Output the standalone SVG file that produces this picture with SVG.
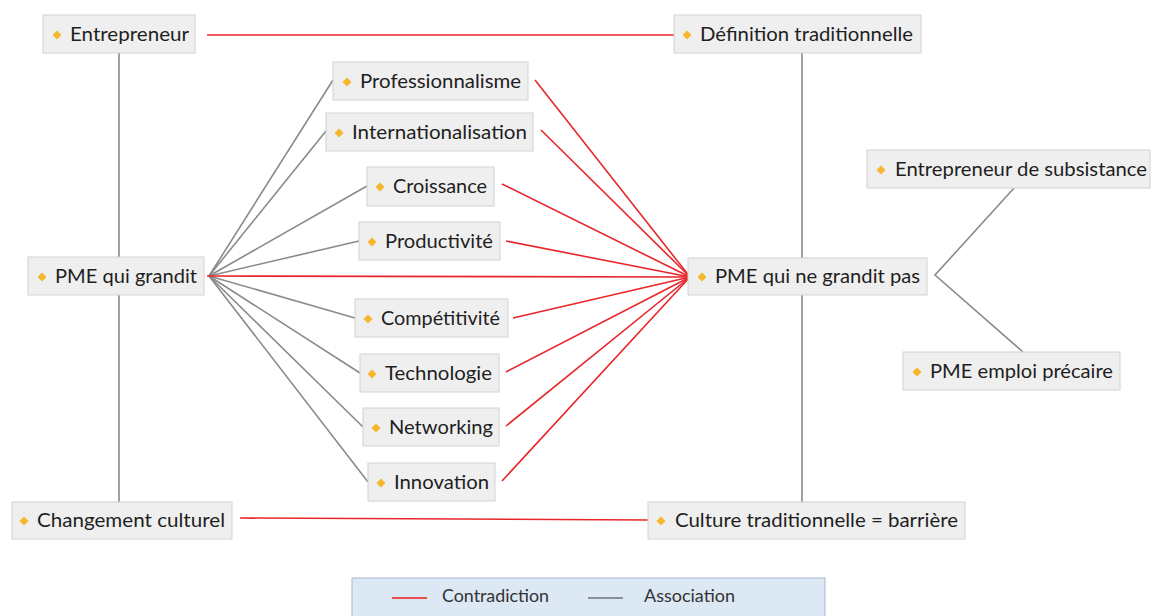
<svg xmlns="http://www.w3.org/2000/svg" width="1152" height="616" viewBox="0 0 1152 616">
<style>
.box{fill:#efefef;stroke:#d2d2d2;stroke-width:1}
.lbl{font-family:Lato,"Open Sans","Liberation Sans",sans-serif;font-size:19px;fill:#1e1e1e}
.dia{fill:#f6b72c}
.red{stroke:#e8262a;stroke-width:1.6;fill:none}
.gray{stroke:#8a8a8a;stroke-width:1.6;fill:none}
.leg{font-family:Lato,"Open Sans","Liberation Sans",sans-serif;font-size:16.5px;fill:#333}
</style>
<defs>
<path id="d" d="M0,-4.5 L4.5,0 L0,4.5 L-4.5,0 Z"/>
</defs>
<rect width="1152" height="616" fill="#ffffff"/>
<g id="connectors">
<line class="gray" x1="119" y1="53" x2="119" y2="502"/>
<line class="gray" x1="802" y1="53" x2="802" y2="502"/>
<line class="red" x1="207" y1="35" x2="674" y2="35"/>
<line class="red" x1="240" y1="518" x2="648" y2="520"/>
<line class="gray" x1="209" y1="276" x2="333" y2="80"/>
<line class="gray" x1="209" y1="276" x2="326" y2="131"/>
<line class="gray" x1="209" y1="276" x2="367" y2="186"/>
<line class="gray" x1="209" y1="276" x2="359" y2="241"/>
<line class="gray" x1="209" y1="276" x2="355" y2="318"/>
<line class="gray" x1="209" y1="276" x2="360" y2="373"/>
<line class="gray" x1="209" y1="276" x2="363" y2="427"/>
<line class="gray" x1="209" y1="276" x2="368" y2="482"/>
<line class="red" x1="207" y1="276" x2="690" y2="277"/>
<line class="red" x1="535" y1="80" x2="690" y2="277"/>
<line class="red" x1="541" y1="130" x2="690" y2="277"/>
<line class="red" x1="502" y1="184" x2="690" y2="277"/>
<line class="red" x1="506" y1="241" x2="690" y2="277"/>
<line class="red" x1="513" y1="318" x2="690" y2="277"/>
<line class="red" x1="506" y1="372" x2="690" y2="277"/>
<line class="red" x1="506" y1="426" x2="690" y2="277"/>
<line class="red" x1="502" y1="481" x2="690" y2="277"/>
<polyline class="gray" points="1015,187 935,275 1023,352"/>
</g>
<g id="n-entrepreneur"><rect class="box" x="43" y="15" width="152" height="38"/><use href="#d" class="dia" x="57" y="35"/><text class="lbl" x="70" y="41" textLength="119" lengthAdjust="spacingAndGlyphs">Entrepreneur</text></g>
<g id="n-definition"><rect class="box" x="674" y="15" width="247" height="38"/><use href="#d" class="dia" x="687" y="35"/><text class="lbl" x="700" y="41" textLength="213" lengthAdjust="spacingAndGlyphs">Définition traditionnelle</text></g>
<g id="n-professionnalisme"><rect class="box" x="333" y="62" width="195" height="38"/><use href="#d" class="dia" x="347" y="82"/><text class="lbl" x="360" y="88" textLength="161" lengthAdjust="spacingAndGlyphs">Professionnalisme</text></g>
<g id="n-internationalisation"><rect class="box" x="326" y="113" width="207" height="38"/><use href="#d" class="dia" x="339" y="133"/><text class="lbl" x="352" y="139" textLength="175" lengthAdjust="spacingAndGlyphs">Internationalisation</text></g>
<g id="n-croissance"><rect class="box" x="367" y="167" width="127" height="39"/><use href="#d" class="dia" x="380" y="187"/><text class="lbl" x="393" y="193" textLength="94" lengthAdjust="spacingAndGlyphs">Croissance</text></g>
<g id="n-productivite"><rect class="box" x="359" y="222" width="141" height="38"/><use href="#d" class="dia" x="372" y="242"/><text class="lbl" x="385" y="248" textLength="108" lengthAdjust="spacingAndGlyphs">Productivité</text></g>
<g id="n-pme-grandit"><rect class="box" x="28" y="257" width="176" height="38"/><use href="#d" class="dia" x="42" y="277"/><text class="lbl" x="55" y="283" textLength="142" lengthAdjust="spacingAndGlyphs">PME qui grandit</text></g>
<g id="n-pme-ne-grandit"><rect class="box" x="688" y="258" width="239" height="37"/><use href="#d" class="dia" x="702" y="277"/><text class="lbl" x="715" y="283" textLength="205" lengthAdjust="spacingAndGlyphs">PME qui ne grandit pas</text></g>
<g id="n-competitivite"><rect class="box" x="355" y="299" width="153" height="38"/><use href="#d" class="dia" x="368" y="319"/><text class="lbl" x="381" y="325" textLength="119" lengthAdjust="spacingAndGlyphs">Compétitivité</text></g>
<g id="n-technologie"><rect class="box" x="360" y="354" width="139" height="38"/><use href="#d" class="dia" x="372" y="374"/><text class="lbl" x="385" y="380" textLength="107" lengthAdjust="spacingAndGlyphs">Technologie</text></g>
<g id="n-networking"><rect class="box" x="363" y="408" width="136" height="38"/><use href="#d" class="dia" x="376" y="428"/><text class="lbl" x="389" y="434" textLength="104" lengthAdjust="spacingAndGlyphs">Networking</text></g>
<g id="n-innovation"><rect class="box" x="368" y="463" width="127" height="38"/><use href="#d" class="dia" x="381" y="483"/><text class="lbl" x="394" y="489" textLength="95" lengthAdjust="spacingAndGlyphs">Innovation</text></g>
<g id="n-subsistance"><rect class="box" x="867" y="150" width="283" height="38"/><use href="#d" class="dia" x="881" y="170"/><text class="lbl" x="895" y="176" textLength="252" lengthAdjust="spacingAndGlyphs">Entrepreneur de subsistance</text></g>
<g id="n-emploi"><rect class="box" x="903" y="352" width="217" height="38"/><use href="#d" class="dia" x="917" y="372"/><text class="lbl" x="930" y="378" textLength="183" lengthAdjust="spacingAndGlyphs">PME emploi précaire</text></g>
<g id="n-changement"><rect class="box" x="12" y="502" width="220" height="37"/><use href="#d" class="dia" x="24" y="521"/><text class="lbl" x="37" y="527" textLength="188" lengthAdjust="spacingAndGlyphs">Changement culturel</text></g>
<g id="n-culture"><rect class="box" x="648" y="502" width="317" height="37"/><use href="#d" class="dia" x="661" y="521"/><text class="lbl" x="675" y="527" textLength="283" lengthAdjust="spacingAndGlyphs">Culture traditionnelle = barrière</text></g>
<g id="legend">
<rect x="352" y="578" width="473" height="44" fill="#dce8f4" stroke="#a4b8d2" stroke-width="1"/>
<line x1="392" y1="598" x2="427" y2="598" stroke="#e85050" stroke-width="2"/>
<text class="leg" x="442" y="602" textLength="107" lengthAdjust="spacingAndGlyphs">Contradiction</text>
<line x1="588" y1="598" x2="623" y2="598" stroke="#8a9098" stroke-width="2"/>
<text class="leg" x="644" y="602" textLength="91" lengthAdjust="spacingAndGlyphs">Association</text>
</g>
</svg>
